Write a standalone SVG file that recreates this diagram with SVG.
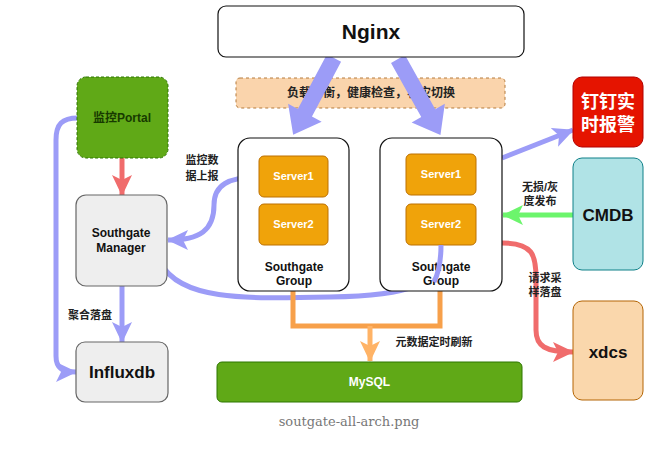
<svg xmlns="http://www.w3.org/2000/svg" width="668" height="463" viewBox="0 0 668 463">
<style>
text{font-family:"Liberation Sans","Noto Sans CJK SC",Arial,sans-serif;font-weight:bold;text-anchor:middle}
.lbl{font-size:11px;fill:#222}
.srv rect{fill:#F0A30A;stroke:#BD7000;stroke-width:1}
.srv text{fill:#fff;font-size:11px}
.grp{fill:#fff;stroke:#111;stroke-width:1.2}
.blue{fill:none;stroke:#9C9CF7;stroke-width:5}
</style>
<defs>
<marker id="mb" markerUnits="userSpaceOnUse" markerWidth="22" markerHeight="22" viewBox="0 0 22 22" refX="20" refY="11" orient="auto"><path d="M0,1 L21,11 L0,21 L5,11 Z" fill="#9C9CF7"/></marker>
<marker id="mr" markerUnits="userSpaceOnUse" markerWidth="22" markerHeight="22" viewBox="0 0 22 22" refX="20" refY="11" orient="auto"><path d="M0,1 L21,11 L0,21 L5,11 Z" fill="#F06C6C"/></marker>
<marker id="mg" markerUnits="userSpaceOnUse" markerWidth="22" markerHeight="22" viewBox="0 0 22 22" refX="20" refY="11" orient="auto"><path d="M0,1 L21,11 L0,21 L5,11 Z" fill="#6CF56C"/></marker>
<marker id="mo" markerUnits="userSpaceOnUse" markerWidth="22" markerHeight="22" viewBox="0 0 22 22" refX="20" refY="11" orient="auto"><path d="M0,1 L21,11 L0,21 L5,11 Z" fill="#FFB366"/></marker>
</defs>
<rect width="668" height="463" fill="#fff"/>

<g id="lb-label">
<rect x="236" y="78" width="269" height="30" rx="4" fill="#FAD4AC" stroke="#B47B3C" stroke-width="1" stroke-dasharray="3,3"/>
<text x="371" y="97" style="font-size:12px" fill="#222">负载均衡，健康检查，容灾切换</text>
</g>

<g id="connectors">
<polygon points="0,-8 62,-8 62,-19 87,0 62,19 62,8 0,8" fill="#9C9CF7" transform="translate(334,58) rotate(118)"/>
<polygon points="0,-8 62,-8 62,-19 87,0 62,19 62,8 0,8" fill="#9C9CF7" transform="translate(398,59) rotate(60.8)"/>
<path d="M122,158 L122,195" stroke="#F06C6C" stroke-width="5" fill="none" marker-end="url(#mr)"/>
<path d="M122,286 L122,342" class="blue" marker-end="url(#mb)"/>
<path d="M78,118 C62,118 56,124 56,140 L56,356 C56,368 62,372 76,372" class="blue" marker-end="url(#mb)"/>
<path d="M260,177 C228,177 214,185 214,205 C214,230 200,240 168,240" class="blue" marker-end="url(#mb)"/>
<path d="M441,245 C441,285 410,296 330,297 C240,299 180,300 160,262" class="blue"/>
<path d="M502,158 L573,130" class="blue" marker-end="url(#mb)"/>
<path d="M573,215 L503,215" stroke="#6CF56C" stroke-width="5" fill="none" marker-end="url(#mg)"/>
<path d="M502,243 C533,243 536,255 536,278 L536,330 C536,346 545,352 573,352" stroke="#F06C6C" stroke-width="5" fill="none" marker-end="url(#mr)"/>
<path d="M293,291 L293,326 L440,326 L440,291" stroke="#F7A04A" stroke-width="5" fill="none"/>
<path d="M370,326 L370,361" stroke="#FFB366" stroke-width="5" fill="none" marker-end="url(#mo)"/>
</g>

<g id="nginx">
<rect x="218" y="6" width="306" height="51" rx="8" fill="#fff" stroke="#111" stroke-width="1.2"/>
<text x="371" y="39" style="font-size:21px" fill="#111">Nginx</text>
</g>

<g id="portal">
<rect x="77" y="77" width="91" height="81" rx="9" fill="#60A917" stroke="#2D7600" stroke-width="1" stroke-dasharray="3,2"/>
<text x="122" y="122" style="font-size:12px" fill="#173A00">监控Portal</text>
</g>

<g id="manager">
<rect x="76" y="195" width="91" height="91" rx="10" fill="#EEEEEE" stroke="#666" stroke-width="1.2"/>
<text x="121" y="237" style="font-size:12px" fill="#111">Southgate</text>
<text x="121" y="252" style="font-size:12px" fill="#111">Manager</text>
</g>

<g id="influxdb">
<rect x="76" y="342" width="92" height="60" rx="9" fill="#EEEEEE" stroke="#666" stroke-width="1.2"/>
<text x="122" y="378" style="font-size:17px" fill="#111">Influxdb</text>
</g>

<g id="group-left">
<rect class="grp" x="238" y="138" width="111" height="153" rx="12"/>
<g class="srv"><rect x="259" y="156" width="69" height="41" rx="5"/><text x="293.5" y="180">Server1</text></g>
<g class="srv"><rect x="259" y="204" width="69" height="41" rx="5"/><text x="293.5" y="228">Server2</text></g>
<text x="294" y="271" style="font-size:12px" fill="#111">Southgate</text>
<text x="294" y="285" style="font-size:12px" fill="#111">Group</text>
</g>

<g id="group-right">
<rect class="grp" x="380" y="138" width="122" height="153" rx="12"/>
<g class="srv"><rect x="406" y="154" width="70" height="41" rx="5"/><text x="441" y="178">Server1</text></g>
<g class="srv"><rect x="406" y="204" width="70" height="41" rx="5"/><text x="441" y="228">Server2</text></g>
<text x="441" y="271" style="font-size:12px" fill="#111">Southgate</text>
<text x="441" y="285" style="font-size:12px" fill="#111">Group</text>
</g>
<path d="M441,245 C441,262 439,272 434,282" class="blue"/>

<g id="dingding">
<rect x="573" y="77" width="70" height="70" rx="9" fill="#E51400" stroke="#B20000" stroke-width="1"/>
<text x="608" y="108" style="font-size:18px" fill="#fff">钉钉实</text>
<text x="608" y="131" style="font-size:18px" fill="#fff">时报警</text>
</g>

<g id="cmdb">
<rect x="573" y="158" width="70" height="112" rx="9" fill="#B0E3E6" stroke="#0E8088" stroke-width="1"/>
<text x="608" y="221" style="font-size:17px" fill="#111">CMDB</text>
</g>

<g id="xdcs">
<rect x="573" y="301" width="70" height="99" rx="9" fill="#FAD7AC" stroke="#B46504" stroke-width="1"/>
<text x="608" y="358" style="font-size:17px" fill="#111">xdcs</text>
</g>

<g id="mysql">
<rect x="217" y="362" width="305" height="40" rx="5" fill="#60A917" stroke="#2D7600" stroke-width="1"/>
<text x="369.5" y="386" style="font-size:12px" fill="#fff">MySQL</text>
</g>

<g id="labels">
<text class="lbl" x="202" y="164">监控数</text>
<text class="lbl" x="202" y="180">据上报</text>
<text class="lbl" x="90" y="319">聚合落盘</text>
<text class="lbl" x="434" y="346">元数据定时刷新</text>
<text class="lbl" x="540" y="191">无损/灰</text>
<text class="lbl" x="540" y="205">度发布</text>
<text class="lbl" x="545" y="282">请求采</text>
<text class="lbl" x="545" y="296">样落盘</text>
</g>

<text x="349" y="426" style="font-family:'DejaVu Serif','Liberation Serif',serif;font-weight:normal;font-size:13px" fill="#777">soutgate-all-arch.png</text>
</svg>
